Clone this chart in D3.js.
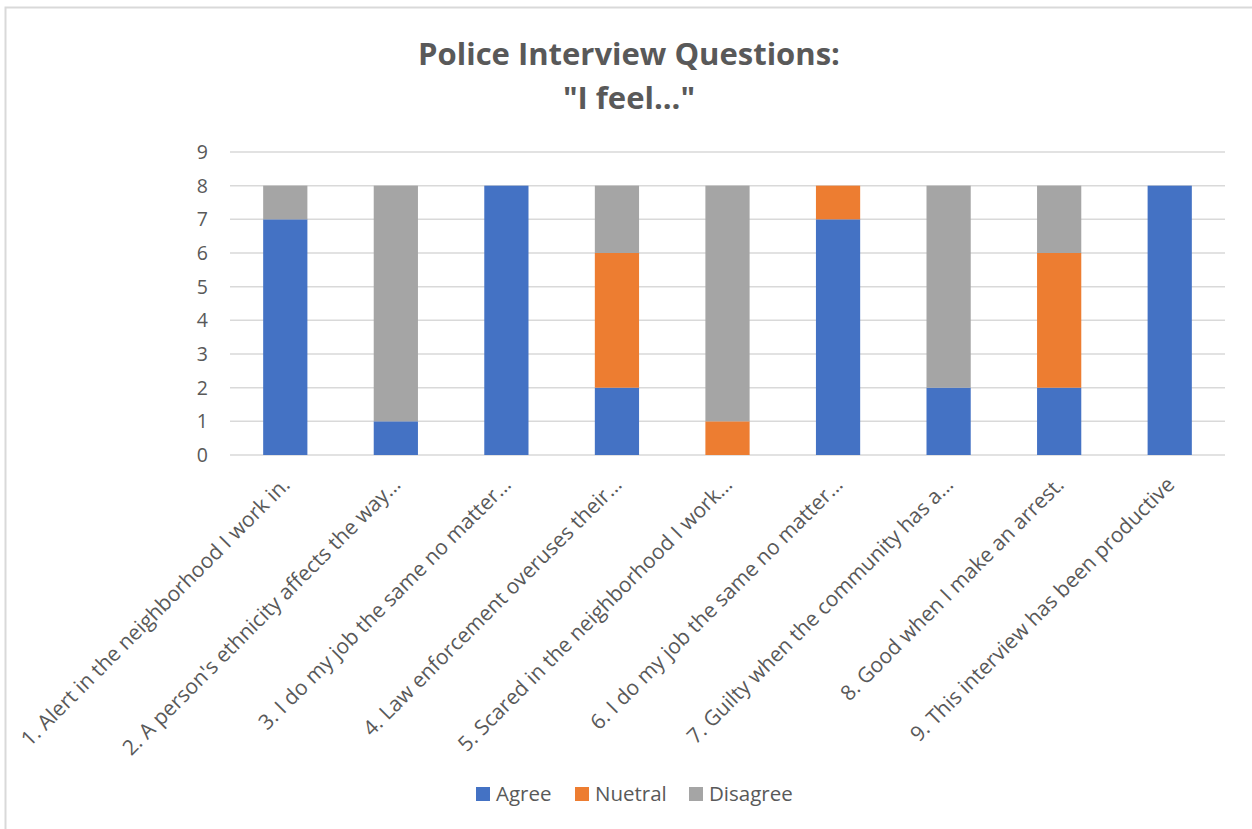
<!DOCTYPE html>
<html>
<head>
<meta charset="utf-8">
<script src="https://cdn.jsdelivr.net/npm/d3@7"></script>
<style>
  html, body { margin: 0; padding: 0; background: #fff; }
  svg { display: block; }
</style>
</head>
<body>
<svg id="chart" width="1252" height="829"></svg>
<script>
const categories = [
  "1. Alert in the neighborhood I work in.",
  "2. A person's ethnicity affects the way…",
  "3. I do my job the same no matter…",
  "4. Law enforcement overuses their…",
  "5. Scared in the neighborhood I work…",
  "6. I do my job the same no matter…",
  "7. Guilty when the community has a…",
  "8. Good when I make an arrest.",
  "9. This interview has been productive"
];
const seriesNames = ["Agree", "Nuetral", "Disagree"];
const agree    = [7, 1, 8, 2, 0, 7, 2, 2, 8];
const neutral  = [0, 0, 0, 4, 1, 1, 0, 4, 0];
const disagree = [1, 7, 0, 2, 7, 0, 6, 2, 0];
const yTicks = [0, 1, 2, 3, 4, 5, 6, 7, 8, 9];
const colors = ["#4472C4", "#ED7D31", "#A5A5A5"];
const titleLines = ["Police Interview Questions:", "\"I feel...\""];

const svg = d3.select("#chart");
const W = 1252, H = 829;
const margin = { left: 230, right: 27, top: 152, bottom: 374 };
const textColor = "#595959";
const font = "'Open Sans', 'Noto Sans', sans-serif";

// chart border (top & left visible, rest beyond viewport)
svg.append("rect")
  .attr("x", 5.5).attr("y", 7.5)
  .attr("width", W + 20).attr("height", H + 20)
  .attr("fill", "none").attr("stroke", "#d9d9d9").attr("stroke-width", 2);

const table = categories.map((c, i) => ({
  cat: c, Agree: agree[i], Nuetral: neutral[i], Disagree: disagree[i]
}));
const stacked = d3.stack().keys(seriesNames)(table);

const x = d3.scaleBand()
  .domain(categories)
  .range([margin.left, W - margin.right])
  .paddingInner(0.6).paddingOuter(0.3);

const y = d3.scaleLinear()
  .domain([0, 9])
  .range([H - margin.bottom, margin.top]);

// gridlines
svg.append("g")
  .selectAll("line")
  .data(yTicks)
  .join("line")
  .attr("x1", margin.left).attr("x2", W - margin.right)
  .attr("y1", d => y(d)).attr("y2", d => y(d))
  .attr("stroke", "#d9d9d9").attr("stroke-width", 1.5);

// y tick labels
svg.append("g")
  .selectAll("text")
  .data(yTicks)
  .join("text")
  .attr("x", 208)
  .attr("y", d => y(d))
  .attr("dy", "0.36em")
  .attr("text-anchor", "end")
  .attr("font-family", font)
  .attr("font-size", 19.5)
  .attr("fill", textColor)
  .text(d => d);

// bars
svg.append("g")
  .selectAll("g")
  .data(stacked)
  .join("g")
  .attr("fill", (d, i) => colors[i])
  .selectAll("rect")
  .data(d => d)
  .join("rect")
  .attr("x", d => x(d.data.cat))
  .attr("width", x.bandwidth())
  .attr("y", d => y(d[1]))
  .attr("height", d => y(d[0]) - y(d[1]));

// category labels (rotated)
svg.append("g")
  .selectAll("text")
  .data(categories)
  .join("text")
  .attr("transform", d => `translate(${x(d) + x.bandwidth() / 2 + 6},${y(0) + 31}) rotate(-45)`)
  .attr("text-anchor", "end")
  .attr("font-family", font)
  .attr("font-size", 21)
  .attr("fill", textColor)
  .text(d => d);

// title
svg.append("g")
  .selectAll("text")
  .data(titleLines)
  .join("text")
  .attr("x", 629)
  .attr("y", (d, i) => 65 + i * 44)
  .attr("text-anchor", "middle")
  .attr("font-family", font)
  .attr("font-weight", "bold")
  .attr("font-size", 31)
  .attr("fill", textColor)
  .text(d => d);

// legend
const legendX = [476, 575, 689];
const lg = svg.append("g");
seriesNames.forEach((s, i) => {
  lg.append("rect")
    .attr("x", legendX[i]).attr("y", 787)
    .attr("width", 14).attr("height", 14)
    .attr("fill", colors[i]);
  lg.append("text")
    .attr("x", legendX[i] + 20).attr("y", 801)
    .attr("font-family", font)
    .attr("font-size", 20.5)
    .attr("fill", textColor)
    .text(s);
});
</script>
</body>
</html>
